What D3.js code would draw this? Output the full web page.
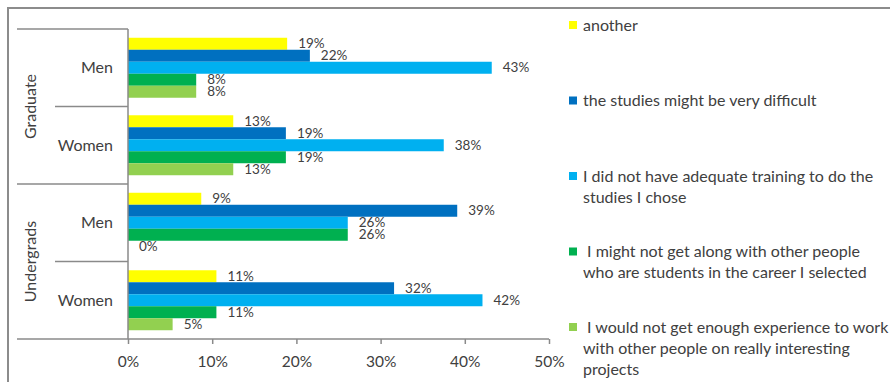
<!DOCTYPE html>
<html><head><meta charset="utf-8">
<script src="https://cdn.jsdelivr.net/npm/d3@7"></script>
<style>
body{margin:0;background:#fff}
svg{display:block}
text{font-family:Lato,'Open Sans',sans-serif;fill:#404040}
</style>
</head><body><svg id="c" width="890" height="382"></svg>
<script>
// ---- data ----
const groups = ["Graduate", "Undergrads"];
const categories = ["Graduate|Men", "Graduate|Women", "Undergrads|Men", "Undergrads|Women"];
const categoryLabels = ["Men", "Women", "Men", "Women"];
const seriesNames = ["another", "the studies might be very difficult", "I did not have adequate training to do the studies I chose", "I might not get along with other people who are students in the career I selected", "I would not get enough experience to work with other people on really interesting projects"];
const legendLines = [
  ["another"],
  ["the studies might be very difficult"],
  ["I did not have adequate training to do the", "studies I chose"],
  ["\u00a0I might not get along with other people", "who are students in the career I selected"],
  ["\u00a0I would not get enough experience to work", "with other people on really interesting", "projects"]
];
const another    = [18.9, 12.5, 8.7, 10.5];
const difficult  = [21.6, 18.75, 39.1, 31.6];
const training   = [43.2, 37.5, 26.1, 42.1];
const getAlong   = [8.1, 18.75, 26.1, 10.5];
const experience = [8.1, 12.5, 0, 5.3];
const xTicks = [0, 10, 20, 30, 40, 50];
const colors = ["#FFFF00", "#0070C0", "#00B0F0", "#00B050", "#92D050"];

const seriesValues = [another, difficult, training, getAlong, experience];

// ---- layout ----
const svg = d3.select("#c");
const lineColor = "#8a8a8a";

const x = d3.scaleLinear().domain([0, 50]).range([128, 549]);
const y0 = d3.scaleBand().domain(categories).range([29, 339]).padding(0);
const y1 = d3.scaleBand().domain(seriesNames).range([0, y0.bandwidth()]).paddingInner(0).paddingOuter(0.73);
const color = d3.scaleOrdinal().domain(seriesNames).range(colors);
const fmt = d3.format(".0f");

// outer frame (top and left visible)
svg.append("path").attr("d", "M8,382V8H890").attr("fill", "none").attr("stroke", "#8c8c8c").attr("stroke-width", 2);

// bars
const rows = [];
categories.forEach((c, ci) => seriesNames.forEach((s, si) => rows.push({c, s, v: seriesValues[si][ci]})));

svg.append("g").selectAll("rect").data(rows).join("rect")
  .attr("x", x(0))
  .attr("y", d => y0(d.c) + y1(d.s))
  .attr("width", d => x(d.v) - x(0))
  .attr("height", y1.bandwidth())
  .attr("fill", d => color(d.s));

svg.append("g").selectAll("text").data(rows).join("text")
  .attr("x", d => x(d.v) + 11)
  .attr("y", d => y0(d.c) + y1(d.s) + y1.bandwidth() / 2)
  .attr("dy", "0.35em")
  .attr("font-size", 13.5)
  .text(d => fmt(d.v) + "%");

// x axis
const xAxis = svg.append("g").attr("transform", `translate(0,${y0.range()[1]})`)
  .call(d3.axisBottom(x).tickValues(xTicks).tickFormat(d => d + "%").tickSize(5).tickPadding(12));
xAxis.select(".domain").remove();
xAxis.selectAll("line").attr("stroke", lineColor).attr("stroke-width", 1.5);
xAxis.selectAll("text").attr("font-size", 15.5).attr("fill", "#404040").attr("font-family", "Lato,'Open Sans',sans-serif");
svg.append("line").attr("x1", 17).attr("x2", x(50)).attr("y1", y0.range()[1]).attr("y2", y0.range()[1])
  .attr("stroke", lineColor).attr("stroke-width", 1.5);

// y axis (multi-level)
svg.append("line").attr("x1", x(0)).attr("x2", x(0)).attr("y1", y0.range()[0]).attr("y2", y0.range()[1])
  .attr("stroke", lineColor).attr("stroke-width", 1.5);
// outer level separators
const outerBounds = [y0(categories[0]), y0(categories[2])];
svg.append("g").selectAll("line").data(outerBounds).join("line")
  .attr("x1", 17).attr("x2", x(0)).attr("y1", d => d).attr("y2", d => d)
  .attr("stroke", lineColor).attr("stroke-width", 1.5);
// inner level separators
const innerBounds = [y0(categories[1]), y0(categories[3])];
svg.append("g").selectAll("line").data(innerBounds).join("line")
  .attr("x1", 55).attr("x2", x(0)).attr("y1", d => d).attr("y2", d => d)
  .attr("stroke", lineColor).attr("stroke-width", 1.5);

// category labels
svg.append("g").selectAll("text").data(categories).join("text")
  .attr("x", 113)
  .attr("y", d => y0(d) + y0.bandwidth() / 2)
  .attr("dy", "0.35em")
  .attr("text-anchor", "end")
  .attr("font-size", 16)
  .text((d, i) => categoryLabels[i]);

// group labels
svg.append("g").selectAll("text").data(groups).join("text")
  .attr("transform", (g, i) => `translate(30,${y0(categories[i * 2]) + y0.bandwidth()}) rotate(-90)`)
  .attr("dy", "0.35em")
  .attr("text-anchor", "middle")
  .attr("font-size", 16)
  .text(d => d);

// legend
const ly = d3.scalePoint().domain(seriesNames).range([25, 327]);
const leg = svg.append("g").selectAll("g").data(seriesNames).join("g")
  .attr("transform", d => `translate(569,${ly(d)})`);
leg.append("rect").attr("x", 0).attr("y", -4).attr("width", 8).attr("height", 8).attr("fill", d => color(d));
leg.append("text")
  .attr("font-size", 16)
  .selectAll("tspan").data((d, i) => legendLines[i]).join("tspan")
  .attr("x", 14)
  .attr("y", (d, j) => j * 21)
  .attr("dy", "0.35em")
  .text(d => d);
</script>
</body></html>
